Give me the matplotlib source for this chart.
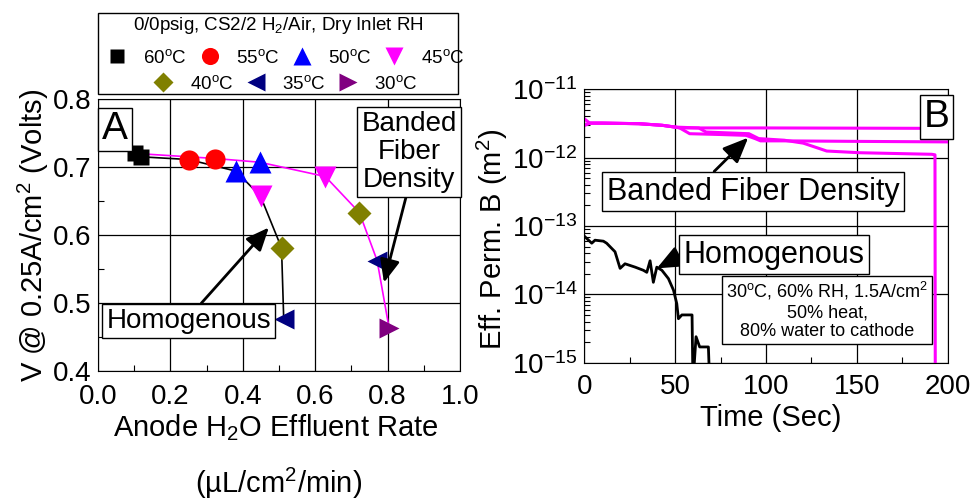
import numpy as np
import matplotlib
matplotlib.use("Agg")
import matplotlib.pyplot as plt
from matplotlib.patches import Rectangle
from matplotlib.ticker import MultipleLocator, LogLocator, NullFormatter

plt.rcParams['font.family'] = ['Liberation Sans', 'DejaVu Sans']
plt.rcParams['mathtext.fontset'] = 'custom'
plt.rcParams['mathtext.rm'] = 'Liberation Sans'
plt.rcParams['mathtext.it'] = 'Liberation Sans:italic'
plt.rcParams['mathtext.bf'] = 'Liberation Sans:bold'
plt.rcParams['mathtext.sf'] = 'Liberation Sans'

## ---------------- dados painel A (tensao x taxa de agua no anodo) ----------------
temps = ['60', '55', '50', '45', '40', '35', '30']
# difusor homogeneo (sem ponto a 30 C)
homog_rate = [0.118, 0.250, 0.381, 0.449, 0.507, 0.513, np.nan]
homog_volt = [0.715, 0.711, 0.694, 0.657, 0.581, 0.477, np.nan]
# difusor com bandas de fibra
banded_rate = [0.102, 0.324, 0.447, 0.628, 0.722, 0.771, 0.804]
banded_volt = [0.720, 0.7125, 0.707, 0.686, 0.633, 0.5625, 0.4635]

## ---------------- dados painel B (permeabilidade x tempo) ----------------
t_homog = [0, 4.1, 5.9, 10.5, 12.3, 15.1, 16.9, 19.7, 22.4, 28, 32.5, 34.4, 36.2, 38,
           39.9, 42.7, 46.3, 49.1, 50.9, 51.8, 53.7, 59.3, 59.8, 61.5, 63.5, 68.3, 69.0]
k_homog = [7.1e-14, 5.6e-14, 6.2e-14, 6.0e-14, 5.6e-14, 4.7e-14, 4.2e-14, 2.4e-14, 2.8e-14,
           2.5e-14, 2.25e-14, 2.1e-14, 3.1e-14, 1.5e-14, 2.5e-14, 2.25e-14, 1.7e-14, 1.15e-14,
           7.3e-15, 4.4e-15, 5.0e-15, 5.0e-15, 5e-16, 2.4e-15, 1.7e-15, 1.7e-15, 5e-16]

t_band1 = [0, 3, 10, 30, 43, 50, 53, 100, 150, 200]
k_band1 = [2.95e-12, 3.2e-12, 3.2e-12, 3.14e-12, 2.97e-12, 2.8e-12, 2.72e-12, 2.72e-12,
           2.7e-12, 2.68e-12]

t_band2 = [0, 3, 10, 30, 43, 50, 52.5, 58, 75, 89, 94, 97, 110, 150, 200]
k_band2 = [3.7e-12, 3.2e-12, 3.2e-12, 3.14e-12, 2.97e-12, 2.8e-12, 2.72e-12, 2.24e-12,
           2.18e-12, 2.12e-12, 1.9e-12, 1.76e-12, 1.76e-12, 1.73e-12, 1.70e-12]

t_band3 = [0, 3, 10, 30, 43, 50, 63, 67, 90.6, 96, 110, 120.5, 129.7, 133.4, 151.7, 191.2,
           193.0, 193.2]
k_band3 = [3.0e-12, 3.2e-12, 3.2e-12, 3.14e-12, 2.97e-12, 2.8e-12, 2.72e-12, 2.37e-12,
           2.24e-12, 1.9e-12, 1.8e-12, 1.63e-12, 1.35e-12, 1.25e-12, 1.18e-12, 1.12e-12,
           1.1e-12, 1e-16]

## ---------------- estilos ----------------
marcadores = ['s', 'o', '^', 'v', 'D', '<', '>']
cores = ['black', 'red', 'blue', 'magenta', 'olive', 'navy', 'purple']
tam = [12, 14.5, 16, 16, 12, 15, 15]

W, H = 974, 500
def fx(px):
    return px / W
def fy(py):
    return 1 - py / H

fig = plt.figure(figsize=(9.74, 5.0), dpi=100)
axA = fig.add_axes([fx(98), fy(371), (460 - 98) / W, (371 - 99) / H])
axB = fig.add_axes([fx(584.3), fy(362.7), (947.7 - 584.3) / W, (362.7 - 89.3) / H])

##------------------------- painel A -------------------------
axA.plot(homog_rate, homog_volt, color='black', lw=1.2, zorder=2)
axA.plot(banded_rate, banded_volt, color='magenta', lw=1.2, zorder=2)
handles = []
for i, T in enumerate(temps):
    xs = [homog_rate[i], banded_rate[i]]
    ys = [homog_volt[i], banded_volt[i]]
    h, = axA.plot(xs, ys, ls='none', marker=marcadores[i], ms=tam[i], color=cores[i],
                  mec='none', zorder=3, label=T + r'$^{\mathrm{o}}$C')
    handles.append(h)

axA.set_xlim(0, 1.0)
axA.set_ylim(0.4, 0.8)
axA.xaxis.set_major_locator(MultipleLocator(0.2))
axA.xaxis.set_minor_locator(MultipleLocator(0.1))
axA.yaxis.set_major_locator(MultipleLocator(0.1))
axA.yaxis.set_minor_locator(MultipleLocator(0.05))
axA.xaxis.set_major_formatter(matplotlib.ticker.FormatStrFormatter('%.1f'))
axA.grid(True, which='major', color='black', lw=0.9)
axA.tick_params(which='both', direction='in', top=False, right=False, labelsize=20)
axA.tick_params(axis='x', which='major', length=0, pad=9)
axA.tick_params(axis='y', which='major', length=0, pad=5)
axA.tick_params(which='minor', length=4, width=0.8)
axA.set_xlabel('Anode H$_2$O Effluent Rate', fontsize=21)
axA.xaxis.set_label_coords(0.49, -0.15)
axA.set_ylabel('V @ 0.25A/cm$^2$ (Volts)', fontsize=21)
axA.yaxis.set_label_coords(-0.13, 0.5)
fig.text(fx(279), fy(483), '(µL/cm$^2$/min)', fontsize=21, ha='center', va='center')

caixa = dict(boxstyle='square,pad=0.15', fc='white', ec='black', lw=1)
seta = dict(arrowstyle='-|>,head_length=0.7,head_width=0.3', lw=2, color='black',
            shrinkA=0, shrinkB=0)
axA.text(0.047, 0.888, 'A', transform=axA.transAxes, fontsize=28, ha='center', va='center',
         bbox=dict(boxstyle='square,pad=0.1', fc='white', ec='black', lw=1), zorder=5)
axA.annotate('Homogenous', xy=(0.472, 0.611), xycoords='data',
             xytext=(0.251, 0.184), textcoords='axes fraction', fontsize=20,
             ha='center', va='center', bbox=caixa,
             arrowprops=dict(seta, relpos=(0.55, 1.0)), zorder=5)
axA.annotate('Banded\nFiber\nDensity', xy=(0.79, 0.53), xycoords='data',
             xytext=(0.859, 0.805), textcoords='axes fraction', fontsize=20,
             ha='center', va='center', bbox=caixa, linespacing=1.1,
             arrowprops=dict(seta, relpos=(0.48, 0.0)), zorder=5)

# legenda em caixa acima do painel A
fig.add_artist(Rectangle((fx(98), fy(94)), (458 - 98) / W, (94 - 12.7) / H,
                         transform=fig.transFigure, fill=False, ec='black', lw=1))
fig.text(fx(278), fy(25), '0/0psig, CS2/2 H$_2$/Air, Dry Inlet RH', fontsize=13.5,
         ha='center', va='center')
leg_kw = dict(loc='center', frameon=False, fontsize=13.5, handlelength=1.0,
              handletextpad=0.9, columnspacing=0.7, markerscale=0.85, borderpad=0,
              bbox_transform=fig.transFigure)
leg1 = fig.legend(handles[:4], [h.get_label() for h in handles[:4]], ncol=4,
                  bbox_to_anchor=(fx(286), fy(58)), **leg_kw)
leg2 = fig.legend(handles[4:], [h.get_label() for h in handles[4:]], ncol=3,
                  bbox_to_anchor=(fx(286), fy(84)), **leg_kw)

##------------------------- painel B -------------------------
axB.plot(t_band1, k_band1, color='magenta', lw=2.2)
axB.plot(t_band2, k_band2, color='magenta', lw=2.2)
axB.plot(t_band3, k_band3, color='magenta', lw=2.2)
axB.plot(t_homog, k_homog, color='black', lw=2.0)
axB.set_yscale('log')
axB.set_xlim(0, 200)
axB.set_ylim(1e-15, 1e-11)
axB.xaxis.set_major_locator(MultipleLocator(50))
axB.xaxis.set_minor_locator(MultipleLocator(25))
axB.yaxis.set_major_locator(LogLocator(base=10, numticks=10))
axB.yaxis.set_minor_locator(LogLocator(base=10, subs=np.arange(2, 10), numticks=10))
axB.yaxis.set_minor_formatter(NullFormatter())
axB.grid(True, which='major', color='black', lw=0.9)
axB.tick_params(which='both', direction='in', top=False, right=False, labelsize=20)
axB.tick_params(axis='x', which='major', length=0, pad=8)
axB.tick_params(axis='y', which='major', length=0, pad=5)
axB.tick_params(which='minor', length=4, width=0.8)
axB.set_xlabel('Time (Sec)', fontsize=21)
axB.xaxis.set_label_coords(0.514, -0.15)
axB.set_ylabel('Eff. Perm. B (m$^2$)', fontsize=21)
axB.yaxis.set_label_coords(-0.205, 0.45)

axB.annotate('Banded Fiber Density', xy=(90.2, 1.96e-12), xycoords='data',
             xytext=(0.464, 0.626), textcoords='axes fraction', fontsize=22,
             ha='center', va='center', bbox=caixa,
             arrowprops=dict(seta, relpos=(0.35, 1.0)), zorder=5)
axB.annotate('Homogenous', xy=(39.9, 2.4e-14), xycoords='data',
             xytext=(0.521, 0.395), textcoords='axes fraction', fontsize=22,
             ha='center', va='center', bbox=caixa,
             arrowprops=dict(seta, relpos=(0.0, 0.5)), zorder=5)
axB.text(0.668, 0.192, '30$^{\\mathrm{o}}$C, 60% RH, 1.5A/cm$^2$\n50% heat,\n80% water to cathode',
         transform=axB.transAxes, fontsize=13, ha='center', va='center', linespacing=1.15,
         bbox=dict(boxstyle='square,pad=0.2', fc='white', ec='black', lw=1), zorder=5)
axB.text(0.969, 0.90, 'B', transform=axB.transAxes, fontsize=28, ha='center', va='center',
         bbox=dict(boxstyle='square,pad=0.1', fc='white', ec='black', lw=1), zorder=5)

fig.savefig('out.png', dpi=100)
